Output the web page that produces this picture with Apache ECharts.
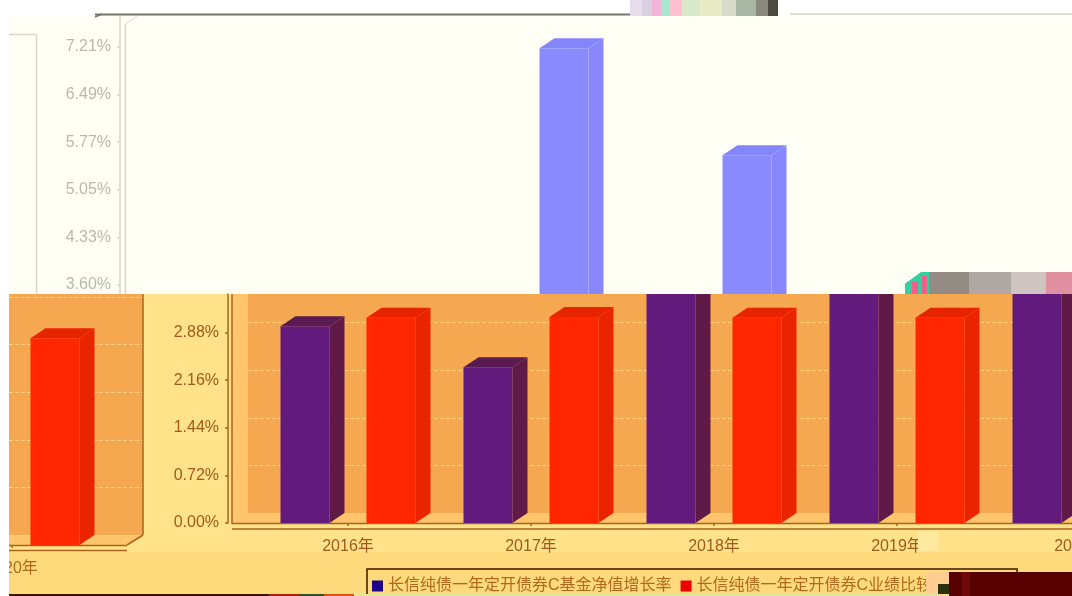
<!DOCTYPE html>
<html><head><meta charset="utf-8">
<style>html,body{margin:0;padding:0;background:#fff}#c{width:1072px;height:596px}</style>
<script src="https://cdn.jsdelivr.net/npm/echarts@6/dist/echarts.min.js"></script>
</head><body><div id="c"></div>
<script>
const categories = ['2016年','2017年','2018年','2019年','2020年'];
const fundName = '长信纯债一年定开债券C基金净值增长率';
const benchName = '长信纯债一年定开债券C业绩比较基准增长率';
const fundGrowth = [2.98, 2.36, 7.19, 5.57, 3.63];
const benchGrowth = [3.11, 3.12, 3.11, 3.11, 3.13];
const tickValues = [0, 0.721, 1.442, 2.163, 2.884, 3.605, 4.326, 5.047, 5.768, 6.489, 7.21];
const tickLabels = ['0.00%','0.72%','1.44%','2.16%','2.88%','3.60%','4.33%','5.05%','5.77%','6.49%','7.21%'];

const SCALE = 66.02, FONT = '"Liberation Sans","Noto Sans CJK SC",sans-serif';
const BROWN = '#A9641C', TXT = '#A05A1C';
const labelOf = v => tickLabels[tickValues.findIndex(t => Math.abs(t - v) < 1e-6)] || '';

const bar3d = (side, cols) => (params, api) => {
  const cat = api.value(0), val = api.value(1);
  const top = api.coord([cat, val]), base = api.coord([cat, 0]);
  const band = api.size([1, 0])[0], w = band * 49 / 183, gap = band * 18.5 / 183;
  const x0 = side < 0 ? top[0] - gap - w : top[0] + gap, x1 = x0 + w, dx = 15, dy = -10;
  const st = c => ({ fill: c });
  return { type: 'group', children: [
    { type: 'polygon', shape: { points: [[x0, top[1]], [x1, top[1]], [x1 + dx, top[1] + dy], [x0 + dx, top[1] + dy]] }, style: st(cols[1]) },
    { type: 'polygon', shape: { points: [[x1, top[1]], [x1 + dx, top[1] + dy], [x1 + dx, base[1] + dy], [x1, base[1]]] }, style: st(cols[2]) },
    { type: 'rect', shape: { x: x0, y: top[1], width: w, height: base[1] - top[1] }, style: st(cols[0]) }
  ]};
};
const PURPLE = ['#621A7C', '#5A1A52', '#601A48'], RED = ['#FF2600', '#E62400', '#EB2400'], BLUE = ['#8A8AFF', '#8585FA', '#8888FC'];
const rows = arr => arr.map((v, i) => [i, v]);

const grids = [], xAxes = [], yAxes = [], series = [];
function layer(cfg) {
  const i = grids.length;
  grids.push({ left: cfg.left, top: cfg.top, width: cfg.width, height: cfg.height, outerBoundsMode: 'none', containLabel: false, zlevel: cfg.zlevel, z: cfg.gz || 1, show: !!cfg.bg, backgroundColor: cfg.bg || 'transparent', borderWidth: 0 });
  const lab = cfg.labelColor;
  xAxes.push({ type: 'category', gridIndex: i, data: categories, offset: cfg.xOffset || 0, show: !!cfg.xShow, zlevel: cfg.zlevel, z: 4,
    axisLine: { show: false }, axisTick: { show: true, length: 3, alignWithLabel: true, lineStyle: { color: BROWN, width: 1.5 } },
    axisLabel: { show: true, interval: 0, color: lab, fontSize: 16, margin: cfg.xMargin || 10, hideOverlap: false, fontFamily: FONT } });
  const customVals = tickValues.filter(t => t >= cfg.min && t <= cfg.max);
  yAxes.push({ type: 'value', gridIndex: i, min: cfg.min, max: cfg.max, interval: 0.721, show: true, offset: cfg.yOffset || 0, zlevel: cfg.zlevel, z: 4,
    axisLine: { show: !!cfg.yLine, onZero: false, lineStyle: { color: cfg.lineColor, width: 1.5 } },
    axisTick: { show: !!cfg.yLine, length: 3, customValues: customVals, lineStyle: { color: cfg.lineColor, width: 1.5 } },
    axisLabel: { show: !!cfg.yLine, customValues: customVals, formatter: labelOf, color: lab, fontSize: 16, margin: 9, padding: [4, 0, 0, 0], fontFamily: FONT },
    splitLine: { show: !!cfg.split, lineStyle: { color: '#FFCF7E', type: 'dashed', width: 1 } } });
  (cfg.bars || []).forEach(b => series.push({ type: 'custom', name: b.name, coordinateSystem: 'cartesian2d', xAxisIndex: i, yAxisIndex: i, clip: true, zlevel: cfg.zlevel, z: 6, silent: true, data: rows(b.data), renderItem: bar3d(b.side, b.cols) }));
}

const LEFT = 256.5, W = 915;
// pale upper block, shifted left
layer({ zlevel: 0, left: LEFT - 107, top: 15, width: W, height: 317.4, max: 7.695, min: 2.884, yOffset: 29.5, yLine: true, lineColor: '#D6D6C6', labelColor: '#B9B9AA',
  bars: [{ name: fundName, data: fundGrowth, side: -1, cols: BLUE }] });
// back wall of main block
layer({ zlevel: 1, left: 248, top: 294, width: 830, height: 219, min: 0, max: 219 / SCALE, split: true, bg: '#F5A850', labelColor: TXT });
// back wall of wrapped block
layer({ zlevel: 1, left: 9, top: 294, width: 134, height: 241, min: 0, max: 241 / SCALE, split: true, bg: '#F5A850', labelColor: TXT });
// main block
layer({ zlevel: 1, left: LEFT, top: 294, width: W, height: 229, min: 0, max: 229 / SCALE, yOffset: 28.5, yLine: true, xShow: true, xOffset: 6, xMargin: 10, lineColor: BROWN, labelColor: TXT,
  bars: [{ name: fundName, data: fundGrowth, side: -1, cols: PURPLE }, { name: benchName, data: benchGrowth, side: 1, cols: RED }] });
// wrapped block (2020 continues at the left edge, one step lower)
layer({ zlevel: 1, left: LEFT - 1068, top: 294, width: W, height: 251, min: 0, max: 251 / SCALE, xShow: true, xOffset: 5, xMargin: 11, labelColor: '#B0681C',
  bars: [{ name: benchName, data: benchGrowth, side: 1, cols: RED }] });

const rect = (x, y, w, h, fill, zlevel, z) => ({ type: 'rect', shape: { x, y, width: w, height: h }, style: { fill }, zlevel, z, silent: true });
const line = (x1, y1, x2, y2, stroke, lw, zlevel, z) => ({ type: 'line', shape: { x1, y1, x2, y2 }, style: { stroke, lineWidth: lw }, zlevel, z, silent: true });
const poly = (points, fill, zlevel, z) => ({ type: 'polygon', shape: { points }, style: { fill }, zlevel, z, silent: true });

const FLOOR = '#FFC46C';
const deco = [
  // upper pale panel
  rect(9, 15, 1063, 280, '#FFFFF6', 0, 0),
  line(95, 14.5, 630, 14.5, '#777770', 2, 0, 8),
  line(95, 17, 102, 14, '#77776f', 1.5, 0, 8),
  line(790, 14, 1072, 14, '#D2D2C4', 1.5, 0, 8),
  line(9, 34.5, 36.5, 34.5, '#D6D6C6', 1.5, 0, 8),
  line(36.5, 34.5, 36.5, 294, '#D6D6C6', 1.5, 0, 8),
  line(125.5, 24, 125.5, 294, '#D6D6C6', 1.5, 0, 8),
  line(125.5, 24, 137, 16, '#D6D6C6', 1, 0, 8),
  // lower warm panel
  rect(9, 294, 1063, 258, '#FFE28A', 1, 0),
  rect(9, 552, 1063, 44, '#FFDA7C', 1, 0),
  // walls and floors
  poly([[232, 523], [248, 513], [248, 294], [232, 294]], FLOOR, 1, 3),
  poly([[232, 523], [248, 513], [1072, 513], [1072, 523]], FLOOR, 1, 3),
  poly([[9, 545], [127, 545], [143, 535], [9, 535]], FLOOR, 1, 3),
  line(232, 294, 232, 524, BROWN, 1.5, 1, 5),
  line(232, 523.5, 1072, 523.5, BROWN, 1.5, 1, 5),
  line(232, 529, 1072, 529, BROWN, 1.5, 1, 5),
  line(143, 294, 143, 535, BROWN, 1.5, 1, 5),
  line(143, 535, 127, 545, BROWN, 1.5, 1, 5),
  line(9, 545.5, 127, 545.5, BROWN, 1.5, 1, 5),
  line(9, 550.5, 127, 550.5, BROWN, 1.5, 1, 5),
  // page edge and bottom strip
  rect(0, 0, 9, 596, '#FFFFFF', 2, 9),
  rect(9, 594, 260, 2, '#3A1200', 2, 9),
  rect(269, 594, 30, 2, '#B02010', 2, 9), rect(299, 594, 25, 2, '#305020', 2, 9), rect(324, 594, 30, 2, '#E05010', 2, 9),
  rect(354, 594, 586, 2, '#DCE8A0', 2, 9),
  // damaged blocks
  rect(630, 0, 12, 16, '#E6DDEA', 2, 1), rect(642, 0, 10, 16, '#D8D0E0', 2, 1),
  rect(652, 0, 10, 16, '#F4B4D8', 2, 2), rect(662, 0, 8, 16, '#A8E8D0', 2, 2),
  rect(670, 0, 12, 16, '#FFC0D0', 2, 2), rect(682, 0, 18, 16, '#D8E8C8', 2, 1),
  rect(700, 0, 22, 16, '#E8ECC4', 2, 2), rect(722, 0, 14, 16, '#D8DCC8', 2, 2),
  rect(736, 0, 20, 16, '#A8B8A4', 2, 1), rect(756, 0, 12, 16, '#8A8A7C', 2, 1), rect(768, 0, 10, 16, '#4A4A40', 2, 1),
  poly([[905, 294], [905, 284], [921, 272], [929, 272], [929, 294]], '#30D0A0', 2, 1),
  rect(912, 282, 6, 12, '#F06088', 2, 2), rect(922, 276, 5, 18, '#F06088', 2, 2),
  rect(929, 272, 40, 22, '#948C84', 2, 1),
  rect(969, 272, 42, 22, '#B0A8A4', 2, 1), rect(1011, 272, 35, 22, '#D0C4C0', 2, 1), rect(1046, 272, 26, 22, '#E090A0', 2, 1),
  rect(918, 531, 20, 20, '#FFE9A0', 2, 1),
  rect(926, 572, 23, 22, '#FFCE90', 2, 1),
  rect(938, 584, 12, 10, '#283010', 2, 2),
  rect(949, 572, 123, 24, '#560000', 2, 2),
  rect(962, 572, 8, 24, '#700808', 2, 3)
];

const option = {
  animation: false, backgroundColor: '#FFFFFF',
  legend: { zlevel: 1, z: 10, left: 367, top: 569, padding: [9, 5, 5, 5], itemWidth: 11, itemHeight: 11, itemGap: 9, icon: 'rect', selectedMode: false,
    borderColor: '#3A1800', borderWidth: 1.5, textStyle: { color: '#B0681C', fontSize: 16, fontFamily: FONT },
    data: [{ name: fundName, itemStyle: { color: '#1E0088' } }, { name: benchName, itemStyle: { color: '#EE0000' } }] },
  grid: grids, xAxis: xAxes, yAxis: yAxes, series, graphic: { elements: deco }
};
echarts.init(document.getElementById('c')).setOption(option);
</script></body></html>
